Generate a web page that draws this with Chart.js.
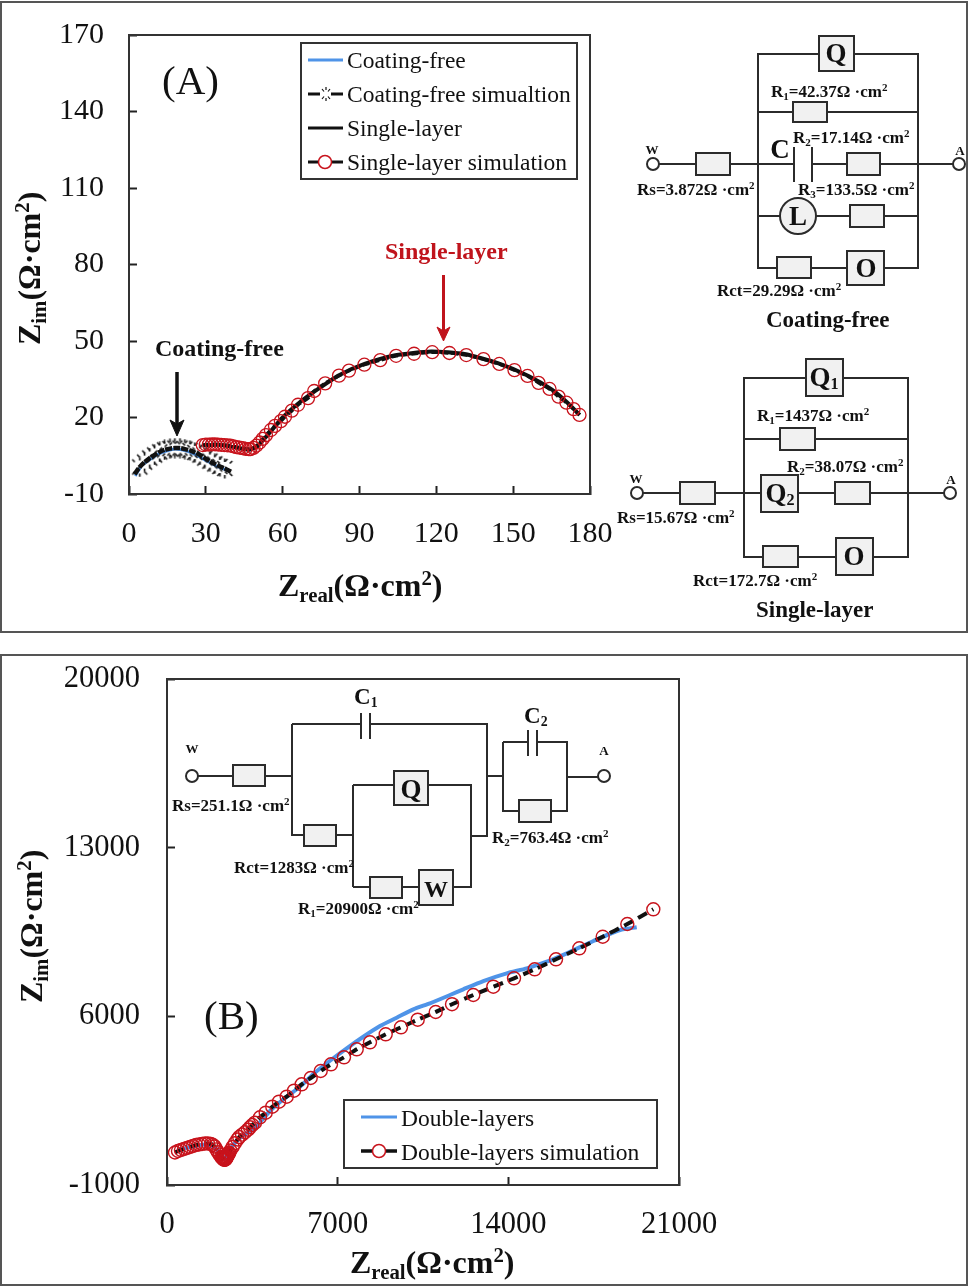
<!DOCTYPE html>
<html>
<head>
<meta charset="utf-8">
<script src="https://cdn.jsdelivr.net/npm/chart.js@4/dist/chart.umd.min.js"></script>
<style>
  html, body { margin: 0; padding: 0; background: #fff; }
  body { width: 969px; height: 1288px; position: relative; overflow: hidden; }
  canvas { position: absolute; }
  #overlay { position: absolute; left: 0; top: 0; pointer-events: none; }
  #overlay text { font-family: "Liberation Serif", serif; fill: #111; }
  .sb { baseline-shift: -0.3em; font-size: 65%; }
  .sp { baseline-shift: super; font-size: 65%; }
  .val { font-size: 17px; font-weight: bold; }
  .cap { font-size: 23px; font-weight: bold; }
  .sym { font-size: 27px; font-weight: bold; text-anchor: middle; }
  .node { font-size: 13px; font-weight: bold; text-anchor: middle; }
  .axt { font-size: 32px; font-weight: bold; }
  .leg { font-size: 23.5px; }
  .pan { font-size: 41px; }
  .w { stroke: #2b2b2b; stroke-width: 2; fill: none; }
  .b { stroke: #2b2b2b; stroke-width: 2; fill: #f1f1f1; }
  .o { stroke: #2b2b2b; stroke-width: 2; fill: #fff; }
</style>
</head>
<body>
<canvas id="chartA" width="580" height="544" style="left:50px;top:10px"></canvas>
<canvas id="chartB" width="710" height="610" style="left:40px;top:650px"></canvas>

<svg id="overlay" width="969" height="1288" xmlns="http://www.w3.org/2000/svg">
  <!-- panel frames -->
  <rect x="1" y="2" width="966" height="630" fill="none" stroke="#555" stroke-width="2"/>
  <rect x="1" y="655" width="966" height="630" fill="none" stroke="#555" stroke-width="2"/>

  <!-- axis titles -->
  <text class="axt" x="278" y="596">Z<tspan class="sb">real</tspan>(Ω·cm<tspan class="sp">2</tspan>)</text>
  <text class="axt" transform="translate(40,345) rotate(-90)">Z<tspan class="sb">im</tspan>(Ω·cm<tspan class="sp">2</tspan>)</text>
  <text class="axt" x="350" y="1273">Z<tspan class="sb">real</tspan>(Ω·cm<tspan class="sp">2</tspan>)</text>
  <text class="axt" transform="translate(42,1003) rotate(-90)">Z<tspan class="sb">im</tspan>(Ω·cm<tspan class="sp">2</tspan>)</text>

  <text class="pan" x="162" y="94">(A)</text>
  <text class="pan" x="204" y="1029">(B)</text>

  <!-- annotations -->
  <text x="385" y="259" style="font-size:24px;font-weight:bold;fill:#c0141c">Single-layer</text>
  <path d="M443.5 275V332" stroke="#c0141c" stroke-width="3" fill="none"/>
  <path d="M437 327L443.5 341L450 327L443.5 331Z" fill="#c0141c" stroke="#c0141c"/>
  <text x="155" y="356" style="font-size:24px;font-weight:bold">Coating-free</text>
  <path d="M177 372V426" stroke="#111" stroke-width="3.5" fill="none"/>
  <path d="M170 420L177 436L184 420L177 424Z" fill="#111" stroke="#111"/>

  <!-- legend A -->
  <rect x="301" y="43" width="276" height="136" fill="#fff" stroke="#333" stroke-width="2"/>
  <path d="M308 60H343" stroke="#4f94e8" stroke-width="3"/>
  <path d="M308 94H320M331 94H343" stroke="#111" stroke-width="3"/>
  <path d="M322 89l2 2.500M330 89l-2 2.500M322 99l2-2.500M330 99l-2-2.500M326 87v3M326 98v3" stroke="#111" stroke-width="1.200"/>
  <path d="M308 128H343" stroke="#111" stroke-width="3"/>
  <path d="M308 162H343" stroke="#111" stroke-width="3"/>
  <circle cx="325" cy="162" r="6.500" fill="#fff" stroke="#c8131c" stroke-width="1.500"/>
  <text class="leg" x="347" y="68">Coating-free</text>
  <text class="leg" x="347" y="102">Coating-free simualtion</text>
  <text class="leg" x="347" y="136">Single-layer</text>
  <text class="leg" x="347" y="170">Single-layer simulation</text>

  <!-- legend B -->
  <rect x="344" y="1100" width="313" height="68" fill="#fff" stroke="#333" stroke-width="2"/>
  <path d="M361 1117H397" stroke="#4f94e8" stroke-width="3"/>
  <path d="M361 1151H397" stroke="#111" stroke-width="3.500"/>
  <circle cx="379" cy="1151" r="6.500" fill="#fff" stroke="#c8131c" stroke-width="1.500"/>
  <text class="leg" x="401" y="1126">Double-layers</text>
  <text class="leg" x="401" y="1160">Double-layers simulation</text>

  <!-- circuit coating-free -->
  <path class="w" d="M758 54H918V268H758ZM758 112H918M659 164H953M758 216H918"/>
  <rect class="b" x="819" y="36" width="35" height="35"/>
  <rect class="b" x="793" y="102" width="34" height="20"/>
  <rect class="b" x="696" y="153" width="34" height="22"/>
  <rect x="795" y="146" width="16" height="36" fill="#fff"/>
  <path class="w" d="M794 147V182M812 147V182"/>
  <rect class="b" x="847" y="153" width="33" height="22"/>
  <circle class="b" cx="798" cy="216" r="18"/>
  <rect class="b" x="850" y="205" width="34" height="22"/>
  <rect class="b" x="777" y="257" width="34" height="21"/>
  <rect class="b" x="847" y="251" width="37" height="34"/>
  <circle class="o" cx="653" cy="164" r="6"/>
  <circle class="o" cx="959" cy="164" r="6"/>
  <text class="sym" x="836" y="62">Q</text>
  <text class="sym" x="798" y="225">L</text>
  <text class="sym" x="866" y="277">O</text>
  <text class="node" x="652" y="154">W</text>
  <text class="node" x="960" y="155">A</text>
  <text class="sym" x="780" y="158">C</text>
  <text class="val" x="771" y="97">R<tspan class="sb">1</tspan>=42.37Ω ·cm<tspan class="sp">2</tspan></text>
  <text class="val" x="793" y="143">R<tspan class="sb">2</tspan>=17.14Ω ·cm<tspan class="sp">2</tspan></text>
  <text class="val" x="637" y="195">Rs=3.872Ω ·cm<tspan class="sp">2</tspan></text>
  <text class="val" x="798" y="195">R<tspan class="sb">3</tspan>=133.5Ω ·cm<tspan class="sp">2</tspan></text>
  <text class="val" x="717" y="296">Rct=29.29Ω ·cm<tspan class="sp">2</tspan></text>
  <text class="cap" x="766" y="327">Coating-free</text>

  <!-- circuit single-layer -->
  <path class="w" d="M744 378H908V557H744ZM744 439H908M643 493H944"/>
  <rect class="b" x="806" y="359" width="37" height="37"/>
  <rect class="b" x="780" y="428" width="35" height="22"/>
  <rect class="b" x="680" y="482" width="35" height="22"/>
  <rect class="b" x="761" y="475" width="37" height="37"/>
  <rect class="b" x="835" y="482" width="35" height="22"/>
  <rect class="b" x="763" y="546" width="35" height="21"/>
  <rect class="b" x="836" y="538" width="37" height="37"/>
  <circle class="o" cx="637" cy="493" r="6"/>
  <circle class="o" cx="950" cy="493" r="6"/>
  <text class="sym" x="824" y="386">Q<tspan style="font-size:60%" dy="3">1</tspan></text>
  <text class="sym" x="780" y="502">Q<tspan style="font-size:60%" dy="3">2</tspan></text>
  <text class="sym" x="854" y="565">O</text>
  <text class="node" x="636" y="483">W</text>
  <text class="node" x="951" y="484">A</text>
  <text class="val" x="757" y="421">R<tspan class="sb">1</tspan>=1437Ω ·cm<tspan class="sp">2</tspan></text>
  <text class="val" x="787" y="472">R<tspan class="sb">2</tspan>=38.07Ω ·cm<tspan class="sp">2</tspan></text>
  <text class="val" x="617" y="523">Rs=15.67Ω ·cm<tspan class="sp">2</tspan></text>
  <text class="val" x="693" y="586">Rct=172.7Ω ·cm<tspan class="sp">2</tspan></text>
  <text class="cap" x="756" y="617">Single-layer</text>

  <!-- circuit double-layers -->
  <path class="w" d="M198 776H292M292 724H361M370 724H487V836H471M292 724V835H353M353 785V887M353 785H471V887H353M487 776H503M503 742V811H567V742H537M503 742H528M567 777H598"/>
  <path class="w" d="M361 713V739M370 713V739M528 730V756M537 730V756"/>
  <rect class="b" x="233" y="765" width="32" height="21"/>
  <rect class="b" x="304" y="825" width="32" height="21"/>
  <rect class="b" x="394" y="771" width="34" height="34"/>
  <rect class="b" x="370" y="877" width="32" height="21"/>
  <rect class="b" x="419" y="870" width="34" height="35"/>
  <rect class="b" x="519" y="800" width="32" height="22"/>
  <circle class="o" cx="192" cy="776" r="6"/>
  <circle class="o" cx="604" cy="776" r="6"/>
  <text class="sym" x="411" y="798">Q</text>
  <text class="sym" x="436" y="897" style="font-size:24px">W</text>
  <text class="node" x="192" y="753">W</text>
  <text class="node" x="604" y="755">A</text>
  <text x="354" y="704" style="font-size:23px;font-weight:bold">C<tspan style="font-size:60%" dy="3">1</tspan></text>
  <text x="524" y="723" style="font-size:23px;font-weight:bold">C<tspan style="font-size:60%" dy="3">2</tspan></text>
  <text class="val" x="172" y="811">Rs=251.1Ω ·cm<tspan class="sp">2</tspan></text>
  <text class="val" x="234" y="873">Rct=1283Ω ·cm<tspan class="sp">2</tspan></text>
  <text class="val" x="492" y="843">R<tspan class="sb">2</tspan>=763.4Ω ·cm<tspan class="sp">2</tspan></text>
  <text class="val" x="298" y="914">R<tspan class="sb">1</tspan>=20900Ω ·cm<tspan class="sp">2</tspan></text>
</svg>

<script>
// panel A values
var xTicksA = [0, 30, 60, 90, 120, 150, 180];
var yTicksA = [-10, 20, 50, 80, 110, 140, 170];

var coatingX = [2.4, 5, 8, 12, 16, 18, 22, 26, 30, 34, 38.5];
var coatingY = [-2.9, 1.2, 3.4, 5.9, 7.2, 7.6, 7, 5.4, 3.2, 1, -0.8];

var coatingSimX = [2.2, 4.2, 6.1, 8.1, 10, 12, 13.9, 16, 17.9, 19.9, 21.8, 23.8, 25.7, 27.7, 29.6, 31.6, 33.5, 35.5, 37.4, 40.1];
var coatingSimY = [-2.2, 0.6, 2.5, 4.1, 5.3, 6.5, 7.3, 7.8, 8, 8, 7.6, 7.1, 6.3, 5.3, 4.1, 2.9, 1.8, 0.8, 0, -1.4];

var singleX = [29, 35, 42, 47, 50, 54, 60, 66, 73, 82, 92, 104, 118, 131, 144, 156, 165, 171, 176];
var singleY = [9, 9.3, 8.2, 7.4, 8.6, 13, 20, 25.4, 30.6, 36.6, 41, 44.4, 45.9, 44.9, 41.3, 36.3, 31, 26, 21];

var singleSimX = [28.8, 30, 31.2, 32.4, 33.6, 34.8, 36, 37.2, 38.4, 39.6, 40.8, 42, 43.2, 44.4, 45.6, 46.8, 47.4, 48.6, 49.8, 51, 52.2, 53.5, 55.4, 57, 59.3, 60.9, 63.6, 66, 69.9, 72.3, 76.6, 82, 85.9, 91.9, 98.1, 104.3, 111.3, 118.4, 125.1, 131.7, 138.4, 144.6, 150.5, 155.6, 159.9, 164.2, 167.7, 170.8, 173.6, 175.9];
var singleSimY = [9.2, 9.4, 9.4, 9.5, 9.5, 9.4, 9.3, 9.2, 9.1, 9, 8.7, 8.4, 8.2, 8, 7.7, 7.6, 7.6, 8.1, 9, 10.2, 11.6, 13.1, 15.1, 16.7, 18.6, 20.3, 22.7, 25, 27.6, 30.4, 33.4, 36.4, 38.4, 40.7, 42.5, 44.2, 45, 45.6, 45.3, 44.5, 42.9, 41, 38.6, 36.3, 33.6, 31.2, 28.2, 25.8, 23.3, 21];

// panel B values
var xTicksB = [0, 7000, 14000, 21000];
var yTicksB = [-1000, 6000, 13000, 20000];

var doubleX = [450, 942, 1558, 1927, 2255, 2378, 2583, 2993, 3678, 4224, 4839, 5455, 6000, 6685, 7371, 8052, 8736, 9421, 10102, 10787, 11608, 12154, 12974, 13934, 14755, 15576, 16396, 17487, 18581, 19266];
var doubleY = [432, 577, 681, 577, 245, 79, 494, 950, 1449, 2071, 2611, 3079, 3607, 4158, 4673, 5154, 5598, 5943, 6292, 6541, 6885, 7122, 7466, 7786, 7993, 8267, 8616, 9126, 9583, 9695];

var doubleSimX = [327, 450, 573, 696, 819, 942, 1066, 1189, 1312, 1435, 1558, 1681, 1804, 1886, 1950, 2020, 2090, 2160, 2225, 2255, 2285, 2310, 2335, 2355, 2375, 2395, 2415, 2435, 2455, 2475, 2500, 2525, 2550, 2600, 2690, 2785, 2890, 2960, 3080, 3200, 3320, 3404, 3500, 3609, 3814, 4048, 4318, 4593, 4909, 5209, 5524, 5894, 6304, 6726, 7260, 7781, 8326, 8970, 9598, 10283, 11021, 11690, 12563, 13384, 14233, 15082, 15956, 16912, 17871, 18880, 19947];
var doubleSimY = [349, 411, 452, 494, 535, 577, 618, 660, 681, 701, 722, 722, 701, 660, 600, 480, 360, 260, 170, 130, 100, 75, 55, 50, 50, 60, 90, 125, 165, 205, 250, 295, 340, 430, 580, 735, 890, 990, 1090, 1190, 1295, 1395, 1490, 1585, 1810, 2000, 2249, 2457, 2664, 2913, 3179, 3440, 3731, 4009, 4300, 4632, 4922, 5254, 5545, 5860, 6180, 6503, 6885, 7230, 7578, 7952, 8367, 8824, 9304, 9832, 10442];

function pts(xs, ys) {
  return xs.map(function (x, i) { return {x: x, y: ys[i]}; });
}

// star marker of the coating-free simulation: ticks round an empty middle
var star = document.createElement('canvas');
star.width = 21;
star.height = 21;
var sc = star.getContext('2d');
sc.strokeStyle = '#111';
sc.lineWidth = 1.6;
sc.translate(10.5, 10.5);
[[0, -6.5, 0, -10], [0, 6.5, 0, 10], [-5, -5, -7.5, -7.5], [5, -5, 7.5, -7.5], [-5, 5, -7.5, 7.5], [5, 5, 7.5, 7.5]].forEach(function (t) {
  sc.beginPath();
  sc.moveTo(t[0], t[1]);
  sc.lineTo(t[2], t[3]);
  sc.stroke();
});

// frame round the plot area
var frame = {
  id: 'frame',
  afterDraw: function (chart) {
    var a = chart.chartArea, c = chart.ctx;
    c.save();
    c.strokeStyle = '#333';
    c.lineWidth = 2;
    c.strokeRect(a.left, a.top, a.right - a.left, a.bottom - a.top);
    c.restore();
  }
};

function axis(ticks, fit, prop, pad, size) {
  return {
    type: 'linear',
    min: ticks[0],
    max: ticks[ticks.length - 1],
    afterBuildTicks: function (s) { s.ticks = ticks.map(function (v) { return {value: v}; }); },
    afterFit: function (s) {
      s[prop] = fit;
      s.paddingTop = s.paddingBottom = s.paddingLeft = s.paddingRight = 0;
    },
    grid: {drawOnChartArea: false, tickLength: -8, tickColor: '#222', tickWidth: 2},
    border: {color: '#333', width: 2},
    ticks: {
      color: '#111', padding: pad, autoSkip: false, maxRotation: 0,
      font: {family: '"Liberation Serif"', size: size},
      callback: function (v) { return String(v); }
    }
  };
}

new Chart(document.getElementById('chartA'), {
  type: 'line',
  plugins: [frame],
  data: {
    datasets: [
      {label: 'Coating-free', order: 4, data: pts(coatingX, coatingY), borderColor: '#4f94e8', borderWidth: 3, tension: 0.2, pointRadius: 0},
      {label: 'Coating-free simualtion', order: 3, data: pts(coatingSimX, coatingSimY), borderColor: '#111', borderWidth: 4.5, borderDash: [7, 1], tension: 0.2,
        pointStyle: star, pointRadius: function (c) { return (c.dataIndex > 0 && c.dataIndex < coatingSimX.length - 1) ? 5 : 0; }},
      {label: 'Single-layer', order: 2, data: pts(singleX, singleY), borderColor: '#111', borderWidth: 4, tension: 0.2, pointRadius: 0},
      {label: 'Single-layer simulation', order: 1, data: pts(singleSimX, singleSimY), borderColor: '#111', borderWidth: 3.5, borderDash: [7, 3], tension: 0.2,
        pointRadius: 6.5, pointBorderColor: '#c8131c', pointBorderWidth: 1.3, pointBackgroundColor: 'rgba(0,0,0,0)'}
    ]
  },
  options: {
    responsive: false,
    animation: false,
    layout: {padding: {top: 25, right: 40, left: 0, bottom: 0}},
    plugins: {legend: {display: false}, tooltip: {enabled: false}},
    scales: {
      x: axis(xTicksA, 60, 'height', 30, 30),
      y: axis(yTicksA, 79, 'width', 33, 30)
    }
  }
});

new Chart(document.getElementById('chartB'), {
  type: 'line',
  plugins: [frame],
  data: {
    datasets: [
      {label: 'Double-layers', order: 2, data: pts(doubleX, doubleY), borderColor: '#4f94e8', borderWidth: 4, tension: 0.2, pointRadius: 0},
      {label: 'Double-layers simulation', order: 1, data: pts(doubleSimX, doubleSimY), borderColor: '#111', borderWidth: 4, borderDash: [10, 6], tension: 0.2,
        pointRadius: 6.5, pointBorderColor: '#c8131c', pointBorderWidth: 1.4, pointBackgroundColor: 'rgba(0,0,0,0)'}
    ]
  },
  options: {
    responsive: false,
    animation: false,
    layout: {padding: {top: 29, right: 71, left: 0, bottom: 0}},
    plugins: {legend: {display: false}, tooltip: {enabled: false}},
    scales: {
      x: axis(xTicksB, 75, 'height', 30, 30.5),
      y: axis(yTicksB, 127, 'width', 35, 30.5)
    }
  }
});
</script>
</body>
</html>
